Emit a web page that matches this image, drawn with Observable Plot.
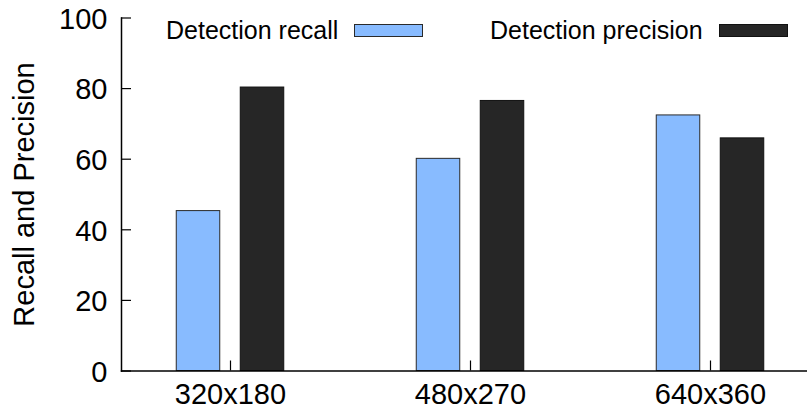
<!DOCTYPE html>
<html>
<head>
<meta charset="utf-8">
<script src="https://cdn.jsdelivr.net/npm/d3@7"></script>
<script src="https://cdn.jsdelivr.net/npm/@observablehq/plot@0.6"></script>
<style>
  html, body { margin: 0; padding: 0; background: #fff; }
  #chart { position: relative; width: 807px; height: 412px; font-family: "Liberation Sans", Arial, Helvetica, sans-serif; }
  .key { position: absolute; top: 18px; display: flex; align-items: center; gap: 16px; font-size: 25px; line-height: 24px; color: #000; white-space: nowrap; }
  .key .swatch { width: 67px; height: 11px; border: 1px solid #222; box-sizing: content-box; }
</style>
</head>
<body>
<div id="chart"></div>
<script>
// Detection quality per input resolution
const resolutions = ["320x180", "480x270", "640x360"];
const recall = [45.3, 60.1, 72.4];
const precision = [80.3, 76.5, 65.9];
const seriesNames = ["Detection recall", "Detection precision"];
const seriesFill = ["#88bbff", "#262626"];
const seriesStroke = ["#2a2a2a", "#111111"];
const yTicks = [0, 20, 40, 60, 80, 100];

const recallRows = resolutions.map((r, i) => ({resolution: r, value: recall[i]}));
const precisionRows = resolutions.map((r, i) => ({resolution: r, value: precision[i]}));

const font = '"Liberation Sans", Arial, Helvetica, sans-serif';
const barInset = 98.25; // leaves ~43px wide bars in each 240px cluster

const chart = Plot.plot({
  width: 807,
  height: 412,
  marginLeft: 121,
  marginRight: 0,
  marginTop: 17.5,
  marginBottom: 41.5,
  style: {fontFamily: font, fontSize: "29px", color: "#000", background: "#fff", overflow: "visible"},
  x: {domain: resolutions, range: [109.4, 830], padding: 0},
  y: {domain: [0, 100]},
  marks: [
    Plot.barY(recallRows, {
      x: "resolution", y: "value", fill: seriesFill[0], stroke: seriesStroke[0], strokeWidth: 1,
      insetLeft: barInset, insetRight: barInset, dx: -32
    }),
    Plot.barY(precisionRows, {
      x: "resolution", y: "value", fill: seriesFill[1], stroke: seriesStroke[1], strokeWidth: 1,
      insetLeft: barInset, insetRight: barInset, dx: 32
    }),
    Plot.frame({anchor: "left", stroke: "#000", strokeWidth: 1.5}),
    Plot.frame({anchor: "bottom", stroke: "#000", strokeWidth: 1.5}),
    // inward tick marks
    Plot.axisY({ticks: yTicks, tickSize: -10, text: null, label: null, stroke: "#000", strokeWidth: 1.2}),
    Plot.axisX({tickSize: -10, text: null, label: null, stroke: "#000", strokeWidth: 1.2}),
    // tick labels
    Plot.axisY({ticks: yTicks, tickSize: 0, tickPadding: 14, dy: 1.5, label: null, fontSize: 29}),
    Plot.axisX({tickSize: 0, tickPadding: 12, label: null, fontSize: 29}),
    // y-axis title
    Plot.axisY({ticks: [], tickSize: 0, label: "Recall and Precision", labelArrow: "none",
      labelAnchor: "center", labelOffset: 108, fontSize: 29})
  ]
});

const host = document.getElementById("chart");
host.appendChild(chart);

// key drawn inside the plot area, as in gnuplot's default top-right key
const keyLeft = [166, 490];
seriesNames.forEach((name, i) => {
  const item = document.createElement("div");
  item.className = "key";
  item.style.left = keyLeft[i] + "px";
  const label = document.createElement("span");
  label.textContent = name;
  const sw = document.createElement("span");
  sw.className = "swatch";
  sw.style.background = seriesFill[i];
  sw.style.borderColor = seriesStroke[i];
  item.appendChild(label);
  item.appendChild(sw);
  host.appendChild(item);
});
</script>
</body>
</html>
